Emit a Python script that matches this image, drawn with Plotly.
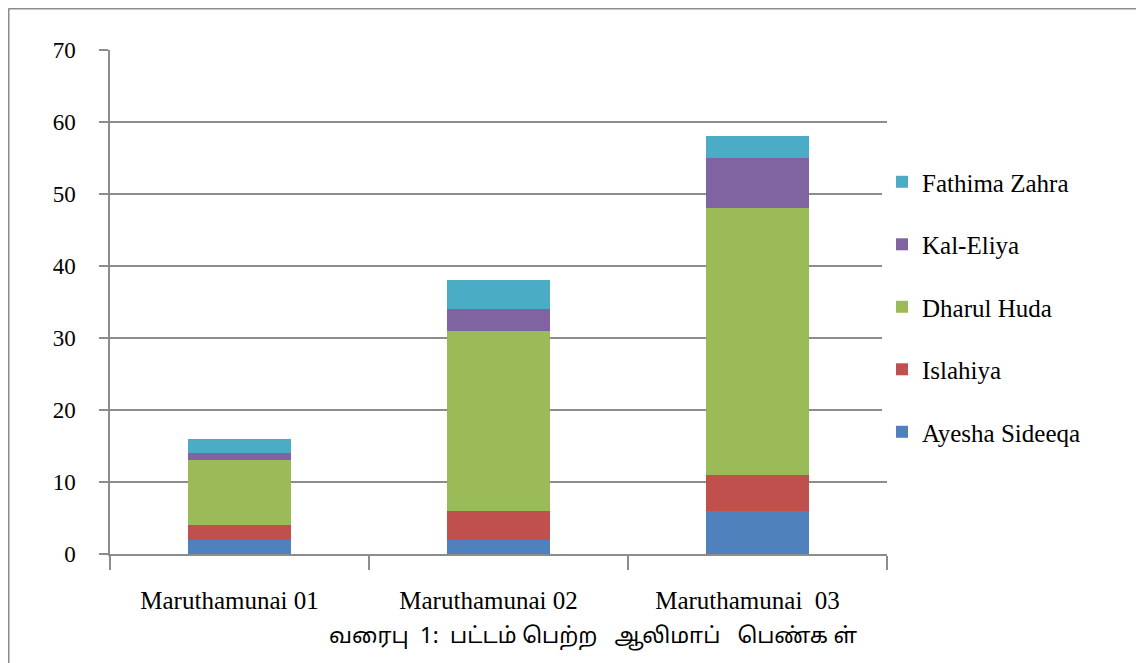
import plotly.graph_objects as go

categories = ["Maruthamunai 01", "Maruthamunai 02", "Maruthamunai  03"]
series_names = ["Ayesha Sideeqa", "Islahiya", "Dharul Huda", "Kal-Eliya", "Fathima Zahra"]
ayesha = [2, 2, 6]
islahiya = [2, 4, 5]
dharul = [9, 25, 37]
kal_eliya = [1, 3, 7]
fathima = [2, 4, 3]
series_values = [ayesha, islahiya, dharul, kal_eliya, fathima]
colors = ["#4F81BD", "#C0504D", "#9BBB59", "#8064A2", "#4BACC6"]
y_ticks = [0, 10, 20, 30, 40, 50, 60, 70]
caption = "வரைபு  1:  பட்டம் பெற்ற   ஆலிமாப்   பெண்க ள்"

# the page body adds an 8px offset
OFF = 8
W, H = 1144 - OFF, 663 - OFF
L, R, T, B = 110 - OFF, 887 - OFF, 50 - OFF, 554 - OFF

fig = go.Figure()
n = len(series_names)
for i, (name, vals, col) in enumerate(zip(series_names, series_values, colors)):
    fig.add_trace(go.Bar(x=categories, y=vals, name=name, marker_color=col,
                         marker_line_width=0, legendgroup=name, legendrank=n - i))

fig.update_layout(
    width=W, height=H,
    barmode="stack", bargap=0.6,
    plot_bgcolor="white", paper_bgcolor="white",
    margin=dict(l=L, r=W - R, t=T, b=H - B, autoexpand=False),
    font=dict(family="Liberation Serif", color="black", size=22),
    legend=dict(x=(882 - OFF - L) / (R - L), xanchor="left", y=0.49, yanchor="middle",
                traceorder="grouped", tracegroupgap=27,
                font=dict(size=25, family="Liberation Serif"),
                itemwidth=30),
    showlegend=True,
)
fig.update_yaxes(range=[0, 70], tickvals=y_ticks, showgrid=True,
                 gridcolor="#8C8C8C", gridwidth=1.5,
                 showline=True, linecolor="#8C8C8C", linewidth=1.5,
                 ticks="outside", ticklen=9, tickcolor="#8C8C8C", tickwidth=1.5,
                 tickfont=dict(size=23), ticklabelstandoff=19, zeroline=False)
fig.update_xaxes(showline=True, linecolor="#8C8C8C", linewidth=1.5,
                 ticks="outside", tickson="boundaries", ticklen=14,
                 tickcolor="#8C8C8C", tickwidth=1.5,
                 tickfont=dict(size=25), ticklabelstandoff=23, ticklabelshift=-10)

pw = R - L
ph = B - T
x0 = (0.5 - L) / pw
x1 = (W + 10 - L) / pw
y_top = (B - 0.5) / ph
y_bot = (B - (H + 10)) / ph
fig.add_shape(type="line", xref="paper", yref="paper", x0=x0, x1=x0, y0=y_bot, y1=y_top,
              line=dict(color="#8C8C8C", width=2))
fig.add_shape(type="line", xref="paper", yref="paper", x0=x0, x1=x1, y0=y_top, y1=y_top,
              line=dict(color="#8C8C8C", width=2))

fig.add_annotation(text=caption, xref="paper", yref="paper",
                   x=(593 - OFF - L) / pw, y=(B - (637 - OFF)) / ph, showarrow=False,
                   xanchor="center", yanchor="middle",
                   font=dict(size=22, family="Noto Sans Tamil, Lohit Tamil, DejaVu Sans, sans-serif"))

fig.write_html("out.html")
